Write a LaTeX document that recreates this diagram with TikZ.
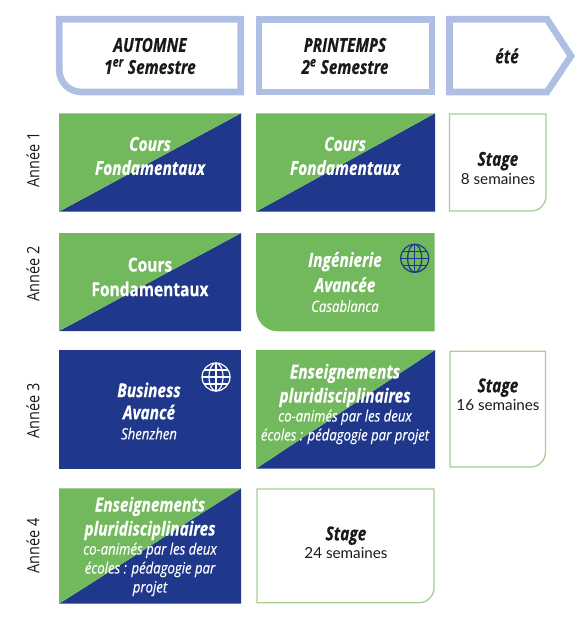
\documentclass[tikz,border=0pt]{standalone}
\usepackage{fontspec}
\setmainfont{Lato}
\newfontfamily\condfont[FakeStretch=.8,BoldFeatures={FakeBold=.4},BoldItalicFeatures={FakeBold=.4}]{Open Sans}
\newfontfamily\subcondfont[FakeStretch=.85,ItalicFeatures={FakeBold=.25}]{Open Sans}
\usetikzlibrary{calc}
\definecolor{headblue}{HTML}{AFBEE3}
\definecolor{cellgreen}{HTML}{72B85C}
\definecolor{cellblue}{HTML}{1F388C}
\definecolor{stagegreen}{HTML}{A6D08F}
\definecolor{inkblack}{HTML}{1A1A1A}
\newcommand\titlefont{\condfont\bfseries\itshape\fontsize{16.5}{20.5}\selectfont}
\newcommand\subfont{\subcondfont\mdseries\itshape\fontsize{13.2}{16}\selectfont}
\newcommand\weekfont{\fontsize{13}{14}\selectfont}
\begin{document}
\begin{tikzpicture}[x=.03cm,y=-.03cm,line join=miter,
  head/.style={draw=headblue,line width=6.7*.03cm},
  headtext/.style={inner sep=0pt,align=center,text=inkblack,font=\titlefont},
  stagebox/.style={draw=stagegreen,line width=1.3*.03cm},
  celltext/.style={inner sep=0pt,align=center,text=white,font=\titlefont},
  stagetext/.style={inner sep=0pt,align=center,text=inkblack,font=\titlefont},
  yearlab/.style={inner sep=0pt,rotate=90,text=inkblack,font=\subcondfont\fontsize{14.5}{16}\selectfont},
  globe/.style={line width=1.2*.03cm}]
  \path[use as bounding box] (0,0) rectangle (584,627);
  % header row
  \draw[head] (59.3,19.3)--(240.7,19.3)--(240.7,92)[rounded corners=22*.03cm]--(59.3,92)[sharp corners]--(59.3,19.3)--cycle;
  \draw[head] (259,19.3) rectangle (432,92);
  \draw[head] (449.5,19.3)--(547,19.3)--(571,56)--(547,92)--(449.5,92)--cycle;
  \node[headtext] (automne) at (150,56) {AUTOMNE\\[-1.7pt]1\textsuperscript{er} Semestre};
  \node[headtext] (printemps) at (345,56) {PRINTEMPS\\[-1.7pt]2\textsuperscript{e} Semestre};
  \node[headtext] (ete) at (507,56) {été};
  % split cells
  \foreach \xa/\ya/\xb/\yb in {59/113.3/241/211.7,256/113.3/435/211.7,59/233/241/331,
    256/350/435/468.7,59/488.3/241/603.7}{
    \fill[cellblue] (\xa,\yb)--(\xb,\ya)--(\xb,\yb)--cycle;
    \fill[cellgreen] (\xa,\yb)--(\xa,\ya)--(\xb,\ya)--cycle;
  }
  % plain cells
  \fill[cellgreen] (256,233)--(434.7,233)--(434.7,331.3)[rounded corners=22*.03cm]--(256,331.3)[sharp corners]--(256,233)--cycle;
  \fill[cellblue] (59,350) rectangle (241,468.7);
  % stage boxes
  \draw[stagebox] (449.5,114)--(546,114)[rounded corners=15*.03cm]--(546,211)[sharp corners]--(449.5,211)--cycle;
  \draw[stagebox] (450,351.3)--(545.5,351.3)[rounded corners=15*.03cm]--(545.5,467)[sharp corners]--(450,467)--cycle;
  \draw[stagebox] (257,489)--(434,489)[rounded corners=15*.03cm]--(434,602.7)[sharp corners]--(257,602.7)--cycle;
  % globes
  \foreach \gx/\gy/\gcol in {414.7/258.3/cellblue,216/377/white}{
    \begin{scope}[shift={(\gx,\gy)},draw=\gcol,globe]
      \draw (0,0) circle (14);
      \draw (0,-14)--(0,14) (-14,0)--(14,0) (-12.2,-7)--(12.2,-7) (-12.2,7)--(12.2,7);
      \draw (0,0) ellipse (7 and 14);
    \end{scope}
  }
  % labels
  \node[yearlab] (an1) at (33,160) {Année 1};
  \node[yearlab] (an2) at (33,274) {Année 2};
  \node[yearlab] (an3) at (33,411) {Année 3};
  \node[yearlab] (an4) at (33,546) {Année 4};
  \node[celltext] (fonda1) at (150,156) {Cours\\Fondamentaux};
  \node[celltext] (fonda2) at (345,156) {Cours\\Fondamentaux};
  \node[celltext,font=\condfont\bfseries\fontsize{16.5}{21}\selectfont] (fonda3) at (150,277) {Cours\\Fondamentaux};
  \node[celltext] (inge) at (345,282) {Ingénierie\\[1pt]Avancée\\[-3.5pt]{\subfont Casablanca}};
  \node[celltext] (business) at (149,411) {Business\\[-1.5pt]Avancé\\[-3.5pt]{\subfont Shenzhen}};
  \node[celltext] (plurib) at (345,404) {Enseignements\\pluridisciplinaires\\[-4.3pt]{\subfont co-animés par les deux}\\[-4.3pt]{\subfont écoles : pédagogie par projet}};
  \node[celltext] (pluria) at (150,546.5) {Enseignements\\pluridisciplinaires\\[-4.3pt]{\subfont co-animés par les deux}\\[-4.3pt]{\subfont écoles : pédagogie par}\\[-4.3pt]{\subfont projet}};
  \node[stagetext] (stage1) at (498,168) {Stage\\[-5pt]{\normalfont\weekfont 8 semaines}};
  \node[stagetext] (stage2) at (498,394.5) {Stage\\[-5pt]{\normalfont\weekfont 16 semaines}};
  \node[stagetext] (stage3) at (346,542.5) {Stage\\[-5pt]{\normalfont\weekfont 24 semaines}};
\end{tikzpicture}
\end{document}
